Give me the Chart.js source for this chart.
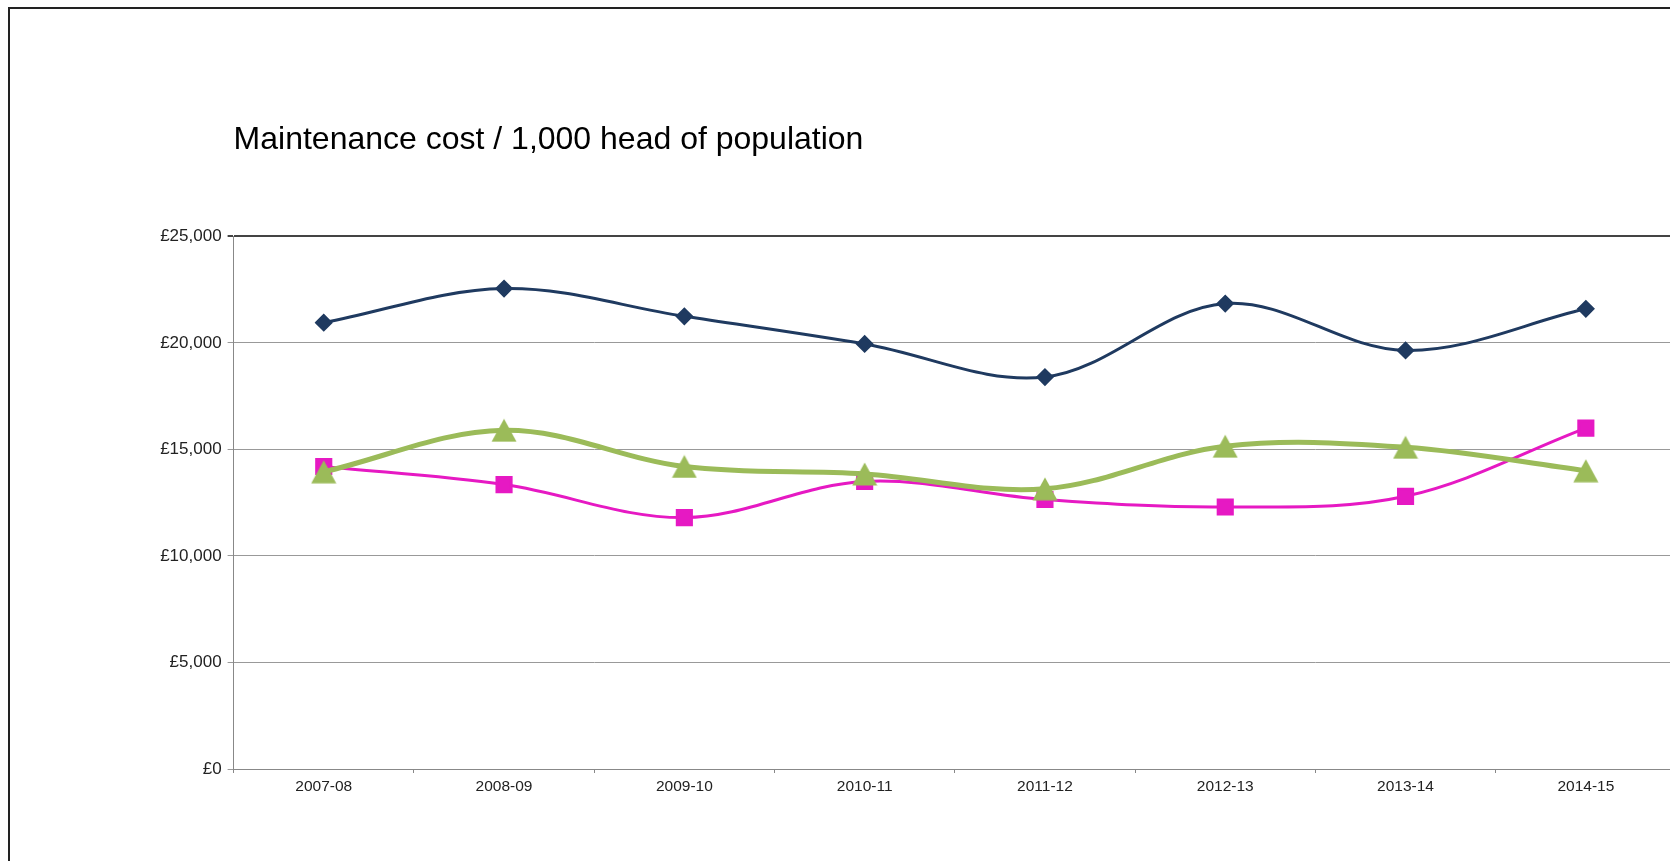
<!DOCTYPE html>
<html lang="en">
<head>
  <meta charset="UTF-8">
  <title>Maintenance cost / 1,000 head of population</title>
  <script src="https://cdn.jsdelivr.net/npm/chart.js"></script>
  <style>
    html, body {
      margin: 0;
      padding: 0;
      background: #fff;
      overflow: hidden;
      width: 1670px;
      height: 861px;
    }
    .frame {
      position: absolute;
      left: 8px;
      top: 7px;
      width: 2000px;
      height: 2000px;
      border-left: 2px solid #222;
      border-top: 2px solid #222;
    }
    .chart-box {
      position: absolute;
      left: 0;
      top: 0;
      width: 1700px;
      height: 861px;
    }
  </style>
</head>
<body>
  <div class="frame"></div>
  <div class="chart-box">
    <canvas id="costChart"></canvas>
  </div>

  <script>
    const years = ['2007-08', '2008-09', '2009-10', '2010-11', '2011-12', '2012-13', '2013-14', '2014-15'];
    const navyCosts = [20950, 22550, 21250, 19950, 18400, 21850, 19650, 21600];
    const pinkCosts = [14200, 13350, 11800, 13500, 12650, 12300, 12800, 16000];
    const greenCosts = [13950, 15900, 14200, 13850, 13150, 15150, 15100, 14000];
    const yMax = 25000;
    const yStep = 5000;

    const font = "'Liberation Sans', Arial, sans-serif";

    // triangle marker centred on its bounding box, the way the spreadsheet draws it
    function triangleMarker(color) {
      const c = document.createElement('canvas');
      c.width = 26;
      c.height = 24;
      const g = c.getContext('2d');
      g.fillStyle = color;
      g.beginPath();
      g.moveTo(13, 0.5);
      g.lineTo(25.5, 23.5);
      g.lineTo(0.5, 23.5);
      g.closePath();
      g.fill();
      return c;
    }

    new Chart(document.getElementById('costChart'), {
      type: 'line',
      data: {
        labels: years,
        datasets: [
          {
            label: 'Series 1',
            data: navyCosts,
            borderColor: '#1f3a60',
            backgroundColor: '#1f3a60',
            borderWidth: 3,
            pointStyle: 'rectRot',
            pointRadius: 7,
            tension: 0.35,
            order: 3
          },
          {
            label: 'Series 2',
            data: pinkCosts,
            borderColor: '#e619c3',
            backgroundColor: '#e619c3',
            borderWidth: 3,
            pointStyle: 'rect',
            pointRadius: 10,
            tension: 0.35,
            order: 2
          },
          {
            label: 'Series 3',
            data: greenCosts,
            borderColor: '#9bbb59',
            backgroundColor: '#9bbb59',
            borderWidth: 5,
            pointStyle: triangleMarker('#9bbb59'),
            pointRadius: 13,
            tension: 0.35,
            order: 1
          }
        ]
      },
      options: {
        responsive: true,
        maintainAspectRatio: false,
        animation: false,
        layout: {
          padding: { left: 0, right: 24, top: 0, bottom: 0 }
        },
        plugins: {
          legend: { display: false },
          tooltip: { enabled: false },
          title: {
            display: true,
            text: 'Maintenance cost / 1,000 head of population',
            align: 'start',
            fullSize: false,
            color: '#000',
            font: { family: font, size: 32, weight: 'normal', lineHeight: 1.2 },
            padding: { top: 120.8, bottom: 77.2 }
          }
        },
        scales: {
          x: {
            offset: true,
            grid: {
              offset: true,
              drawOnChartArea: false,
              drawTicks: true,
              tickLength: 4,
              color: '#888'
            },
            border: { color: '#888', width: 1 },
            ticks: {
              color: '#222',
              padding: 4,
              maxRotation: 0,
              font: { family: font, size: 15.5 }
            },
            afterFit: scale => { scale.height = 92; }
          },
          y: {
            min: 0,
            max: yMax,
            grid: {
              color: c => c.tick && c.tick.value === yMax ? '#444' : '#999',
              lineWidth: c => c.tick && c.tick.value === yMax ? 2 : 1,
              tickLength: 6
            },
            border: { color: '#888', width: 1 },
            ticks: {
              stepSize: yStep,
              color: '#222',
              padding: 6,
              font: { family: font, size: 17 },
              callback: val => '£' + val.toLocaleString('en-GB')
            },
            afterFit: scale => { scale.width = 233.6; }
          }
        }
      }
    });
  </script>
</body>
</html>
